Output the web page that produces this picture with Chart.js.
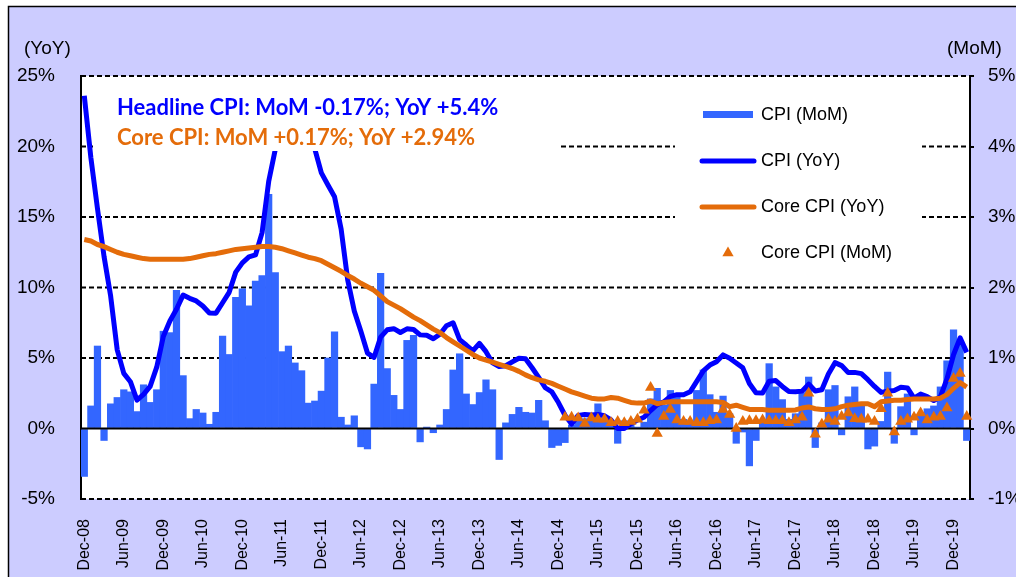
<!DOCTYPE html>
<html>
<head>
<meta charset="utf-8">
<script src="https://cdn.jsdelivr.net/npm/chart.js@4.4.1/dist/chart.umd.min.js"></script>
<style>
  html, body { margin: 0; padding: 0; background: #fff; }
  canvas { display: block; }
</style>
</head>
<body>
<canvas id="cpiChart" width="1016" height="577"></canvas>
<script>
// monthly categories, Dec-08 .. Feb-20
const months = [
  'Dec-08',
  'Jan-09','Feb-09','Mar-09','Apr-09','May-09','Jun-09','Jul-09','Aug-09','Sep-09','Oct-09','Nov-09','Dec-09',
  'Jan-10','Feb-10','Mar-10','Apr-10','May-10','Jun-10','Jul-10','Aug-10','Sep-10','Oct-10','Nov-10','Dec-10',
  'Jan-11','Feb-11','Mar-11','Apr-11','May-11','Jun-11','Jul-11','Aug-11','Sep-11','Oct-11','Nov-11','Dec-11',
  'Jan-12','Feb-12','Mar-12','Apr-12','May-12','Jun-12','Jul-12','Aug-12','Sep-12','Oct-12','Nov-12','Dec-12',
  'Jan-13','Feb-13','Mar-13','Apr-13','May-13','Jun-13','Jul-13','Aug-13','Sep-13','Oct-13','Nov-13','Dec-13',
  'Jan-14','Feb-14','Mar-14','Apr-14','May-14','Jun-14','Jul-14','Aug-14','Sep-14','Oct-14','Nov-14','Dec-14',
  'Jan-15','Feb-15','Mar-15','Apr-15','May-15','Jun-15','Jul-15','Aug-15','Sep-15','Oct-15','Nov-15','Dec-15',
  'Jan-16','Feb-16','Mar-16','Apr-16','May-16','Jun-16','Jul-16','Aug-16','Sep-16','Oct-16','Nov-16','Dec-16',
  'Jan-17','Feb-17','Mar-17','Apr-17','May-17','Jun-17','Jul-17','Aug-17','Sep-17','Oct-17','Nov-17','Dec-17',
  'Jan-18','Feb-18','Mar-18','Apr-18','May-18','Jun-18','Jul-18','Aug-18','Sep-18','Oct-18','Nov-18','Dec-18',
  'Jan-19','Feb-19','Mar-19','Apr-19','May-19','Jun-19','Jul-19','Aug-19','Sep-19','Oct-19','Nov-19','Dec-19',
  'Jan-20','Feb-20'
];

// CPI month-on-month, % (right axis, bars)
const cpiMoM = [
  -0.68,
  0.32, 1.17, -0.17, 0.35, 0.44, 0.55, 0.52, 0.24, 0.62, 0.37, 0.55, 1.38,
  1.36, 1.96, 0.75, 0.14, 0.27, 0.22, 0.06, 0.23, 1.31, 1.05, 1.86, 1.98,
  1.74, 2.09, 2.17, 3.32, 2.21, 1.09, 1.17, 0.93, 0.82, 0.36, 0.39, 0.53,
  1.00, 1.37, 0.16, 0.05, 0.18, -0.26, -0.29, 0.63, 2.20, 0.85, 0.47, 0.27,
  1.25, 1.32, -0.19, 0.02, -0.06, 0.05, 0.27, 0.83, 1.06, 0.49, 0.34, 0.51,
  0.69, 0.55, -0.44, 0.08, 0.20, 0.30, 0.23, 0.22, 0.40, 0.11, -0.27, -0.24,
  -0.20, 0.05, 0.15, 0.14, 0.16, 0.35, 0.13, 0.05, -0.21, 0.11, 0.08, 0.02,
  0.09, 0.42, 0.57, 0.33, 0.54, 0.46, 0.13, 0.10, 0.54, 0.83, 0.48, 0.23,
  0.46, 0.21, -0.21, -0.05, -0.53, -0.17, 0.11, 0.92, 0.59, 0.41, 0.13, 0.21,
  0.51, 0.73, -0.27, 0.08, 0.55, 0.61, -0.09, 0.45, 0.59, 0.33, -0.29, -0.25,
  0.10, 0.80, -0.21, 0.31, 0.49, -0.09, 0.18, 0.28, 0.32, 0.59, 0.96, 1.40,
  1.23, -0.17
];

// CPI year-on-year, % (left axis)
const cpiYoY = [
  23.6,
  19.2, 15.6, 12.2, 9.4, 5.58, 3.91, 3.32, 2.01, 2.42, 2.99, 4.35, 6.52,
  7.62, 8.46, 9.46, 9.23, 9.05, 8.69, 8.19, 8.18, 8.92, 9.66, 11.09, 11.75,
  12.17, 12.31, 13.89, 17.51, 19.78, 20.82, 22.16, 23.02, 22.42, 21.59, 19.83, 18.13,
  17.27, 16.44, 14.15, 10.54, 8.34, 6.9, 5.35, 5.04, 6.48, 7.0, 7.08, 6.81,
  7.07, 7.02, 6.64, 6.61, 6.36, 6.69, 7.29, 7.5, 6.3, 5.92, 5.5, 6.04,
  5.45, 4.65, 4.39, 4.45, 4.72, 4.98, 4.94, 4.31, 3.62, 2.89, 2.6, 1.84,
  0.94, 0.32, 0.93, 0.99, 0.95, 1.0, 0.9, 0.61, 0.0, 0.0, 0.34, 0.6,
  0.8, 1.27, 1.69, 1.89, 2.28, 2.4, 2.39, 2.6, 3.34, 4.09, 4.5, 4.74,
  5.22, 4.98, 4.65, 4.3, 3.19, 2.54, 2.52, 3.35, 3.4, 2.98, 2.62, 2.6,
  2.65, 3.15, 2.66, 2.75, 3.86, 4.67, 4.46, 3.98, 3.98, 3.89, 3.46, 2.98,
  2.56, 2.64, 2.7, 2.93, 2.88, 2.16, 2.44, 2.26, 1.98, 2.24, 3.52, 5.23,
  6.43, 5.4
];

// core CPI year-on-year, % (left axis)
const coreYoY = [
  13.4,
  13.3, 13.05, 12.9, 12.7, 12.5, 12.35, 12.25, 12.15, 12.05, 12.0, 12.0, 12.0,
  12.0, 12.0, 12.0, 12.05, 12.15, 12.25, 12.35, 12.4, 12.5, 12.6, 12.7, 12.75,
  12.8, 12.85, 12.9, 12.9, 12.85, 12.75, 12.6, 12.45, 12.3, 12.15, 12.05, 11.9,
  11.65, 11.4, 11.15, 10.85, 10.6, 10.3, 10.05, 9.8, 9.4, 9.0, 8.75, 8.5,
  8.2, 7.9, 7.65, 7.35, 7.05, 6.8, 6.45, 6.15, 5.85, 5.55, 5.25, 5.0,
  4.85, 4.7, 4.55, 4.4, 4.25, 4.05, 3.8, 3.6, 3.45, 3.35, 3.2, 3.0,
  2.8, 2.6, 2.45, 2.3, 2.15, 2.1, 2.1, 2.2, 2.15, 2.0, 1.85, 1.8,
  1.8, 1.95, 1.75, 1.85, 1.9, 1.9, 1.9, 1.9, 1.9, 1.9, 1.9, 1.9,
  1.85, 1.55, 1.65, 1.5, 1.35, 1.35, 1.35, 1.3, 1.3, 1.3, 1.3, 1.32,
  1.45, 1.53, 1.4, 1.35, 1.35, 1.4, 1.55, 1.65, 1.7, 1.75, 1.75, 1.55,
  1.9, 1.95, 2.0, 2.0, 2.05, 2.1, 2.1, 2.1, 2.1, 2.15, 2.4, 2.85,
  3.25, 2.94
];

// core CPI month-on-month, % (right axis, triangles) - starts Jan-15
const coreMoM = [
  null,
  null, null, null, null, null, null, null, null, null, null, null, null,
  null, null, null, null, null, null, null, null, null, null, null, null,
  null, null, null, null, null, null, null, null, null, null, null, null,
  null, null, null, null, null, null, null, null, null, null, null, null,
  null, null, null, null, null, null, null, null, null, null, null, null,
  null, null, null, null, null, null, null, null, null, null, null, null,
  0.16, 0.16, 0.15, 0.07, 0.15, 0.13, 0.13, 0.08, 0.10, 0.08, 0.10, 0.13,
  0.26, 0.58, -0.07, 0.17, 0.27, 0.12, 0.10, 0.10, 0.08, 0.08, 0.11, 0.12,
  0.27, 0.20, 0.00, 0.10, 0.11, 0.11, 0.12, 0.11, 0.11, 0.11, 0.08, 0.12,
  0.16, 0.50, -0.08, 0.06, 0.13, 0.10, 0.17, 0.22, 0.14, 0.13, 0.13, 0.10,
  0.28, 0.50, -0.05, 0.10, 0.13, 0.16, 0.22, 0.12, 0.16, 0.17, 0.29, 0.71,
  0.78, 0.17
];

const headlineNote = 'Headline CPI: MoM -0.17%; YoY +5.4%';
const coreNote = 'Core CPI: MoM +0.17%; YoY +2.94%';

const FONT = '"Liberation Sans", Arial, sans-serif';
const BLUE_BAR = '#3366ff';
const BLUE = '#0000ff';
const ORANGE = '#e46c0a';

Chart.defaults.font.family = FONT;
Chart.defaults.color = '#000';

const chartDecor = {
  id: 'chartDecor',
  beforeDraw(chart) {
    const { ctx, chartArea: a, width, height } = chart;
    ctx.save();
    ctx.fillStyle = '#fff';
    ctx.fillRect(0, 0, width, height);
    ctx.fillStyle = '#ccccff';
    ctx.fillRect(8, 6, width, height);
    ctx.strokeStyle = '#000';
    ctx.lineWidth = 1.5;
    ctx.beginPath();
    ctx.moveTo(8.5, height);
    ctx.lineTo(8.5, 6.5);
    ctx.lineTo(width, 6.5);
    ctx.stroke();
    ctx.fillStyle = '#fff';
    ctx.fillRect(a.left, a.top, a.right - a.left, a.bottom - a.top);

    ctx.fillStyle = '#000';
    ctx.font = '19px ' + FONT;
    ctx.textAlign = 'left';
    ctx.textBaseline = 'alphabetic';
    ctx.fillText('(YoY)', 24, 54);
    ctx.fillText('(MoM)', 947, 54);
    ctx.restore();
  },
  beforeDatasetsDraw(chart) {
    // dashed grid on the left scale, the zero line is drawn over the bars later
    const { ctx, chartArea: a, scales: { y } } = chart;
    ctx.save();
    ctx.strokeStyle = '#000';
    ctx.lineWidth = 2;
    ctx.setLineDash([5, 3]);
    y.ticks.forEach(t => {
      if (t.value === 0) return;
      const py = y.getPixelForValue(t.value);
      ctx.beginPath();
      ctx.moveTo(a.left, py);
      ctx.lineTo(a.right, py);
      ctx.stroke();
    });
    ctx.restore();
  },
  afterDatasetDraw(chart, args) {
    if (args.index !== 0) return;
    const { ctx, chartArea: a, scales: { y } } = chart;
    const py = y.getPixelForValue(0);
    ctx.save();
    ctx.strokeStyle = '#000';
    ctx.lineWidth = 2;
    ctx.beginPath();
    ctx.moveTo(a.left, py);
    ctx.lineTo(a.right, py);
    ctx.stroke();
    ctx.restore();
  },
  afterDatasetsDraw(chart) {
    const { ctx } = chart;
    const ds = chart.data.datasets;
    ctx.save();

    // note box
    ctx.fillStyle = '#fff';
    ctx.fillRect(93, 84, 467, 67);
    ctx.font = 'bold 22px Lato, "Open Sans", sans-serif';
    ctx.textAlign = 'left';
    ctx.textBaseline = 'alphabetic';
    ctx.fillStyle = BLUE;
    ctx.fillText(headlineNote, 117, 115);
    ctx.fillStyle = ORANGE;
    ctx.fillText(coreNote, 117, 145);

    // legend box
    ctx.fillStyle = '#fff';
    ctx.fillRect(675, 90, 247, 190);
    const rows = [115, 161, 207, 253];
    ctx.fillStyle = ds[0].backgroundColor;
    ctx.fillRect(703, rows[0] - 4, 50, 7);
    ctx.lineCap = 'round';
    ctx.lineWidth = 5;
    [1, 2].forEach(k => {
      ctx.strokeStyle = ds[k].borderColor;
      ctx.beginPath();
      ctx.moveTo(702, rows[k]);
      ctx.lineTo(754, rows[k]);
      ctx.stroke();
    });
    ctx.fillStyle = ds[3].backgroundColor;
    Chart.helpers.drawPoint(ctx, { pointStyle: 'triangle', radius: 6.5, borderWidth: 0, rotation: 0 }, 728, rows[3]);

    ctx.fillStyle = '#000';
    ctx.font = '18px ' + FONT;
    ctx.textBaseline = 'middle';
    ds.forEach((d, k) => ctx.fillText(d.label, 761, rows[k]));
    ctx.restore();
  }
};

new Chart(document.getElementById('cpiChart').getContext('2d'), {
  type: 'bar',
  data: {
    labels: months,
    datasets: [
      {
        type: 'bar',
        label: 'CPI (MoM)',
        data: cpiMoM,
        yAxisID: 'y2',
        backgroundColor: BLUE_BAR,
        barPercentage: 1,
        categoryPercentage: 1,
        order: 10
      },
      {
        type: 'line',
        label: 'CPI (YoY)',
        data: cpiYoY,
        yAxisID: 'y',
        borderColor: BLUE,
        backgroundColor: BLUE,
        borderWidth: 5,
        borderJoinStyle: 'round',
        pointRadius: 0,
        order: 3
      },
      {
        type: 'line',
        label: 'Core CPI (YoY)',
        data: coreYoY,
        yAxisID: 'y',
        borderColor: ORANGE,
        backgroundColor: ORANGE,
        borderWidth: 5,
        borderJoinStyle: 'round',
        pointRadius: 0,
        order: 2
      },
      {
        type: 'line',
        label: 'Core CPI (MoM)',
        data: coreMoM,
        yAxisID: 'y2',
        showLine: false,
        pointStyle: 'triangle',
        pointRadius: 6.5,
        pointBorderWidth: 0,
        backgroundColor: ORANGE,
        borderColor: ORANGE,
        order: 1
      }
    ]
  },
  options: {
    responsive: false,
    animation: false,
    devicePixelRatio: 1,
    layout: { padding: { top: 76, left: 0, right: 0, bottom: 0 } },
    plugins: {
      legend: { display: false },
      tooltip: { enabled: false }
    },
    scales: {
      x: {
        offset: true,
        grid: { display: false },
        border: { display: false },
        ticks: {
          autoSkip: false,
          minRotation: 90,
          maxRotation: 90,
          padding: 12,
          font: { size: 16 },
          callback: (v, i) => (i % 6 === 0 ? months[i] : '')
        },
        afterFit: s => { s.height = 78; }
      },
      y: {
        position: 'left',
        min: -5,
        max: 25,
        grid: { display: false },
        border: { display: true, color: '#000', width: 2 },
        ticks: { stepSize: 5, padding: 18, font: { size: 19 }, callback: v => v + '%' },
        afterFit: s => { s.width = 81; }
      },
      y2: {
        position: 'right',
        min: -1,
        max: 5,
        grid: { drawOnChartArea: false, drawTicks: true, tickLength: 4, color: '#000', lineWidth: 2 },
        border: { display: true, color: '#000', width: 2 },
        ticks: { stepSize: 1, padding: 14, font: { size: 19 }, callback: v => v + '%' },
        afterFit: s => { s.width = 46; }
      }
    }
  },
  plugins: [chartDecor]
});
</script>
</body>
</html>
